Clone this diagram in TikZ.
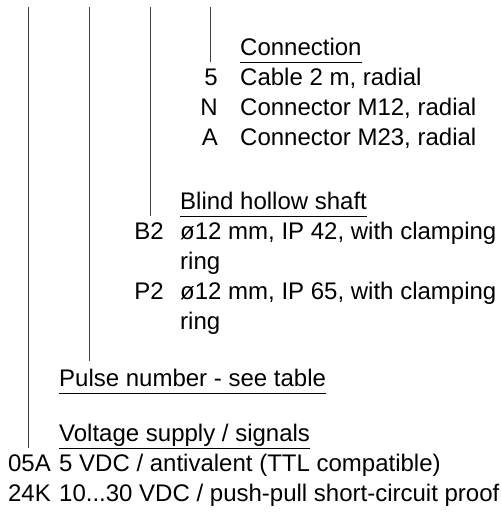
\documentclass[tikz,border=0pt]{standalone}
\usepackage{fontspec}
\setmainfont{Liberation Sans}
\usetikzlibrary{positioning}

\begin{document}
\begin{tikzpicture}[x=1pt, y=-1pt,
    txt/.style={inner sep=0pt, font=\fontsize{24}{30}\selectfont, anchor=base west},
    code/.style={txt, anchor=base east},
    lead/.style={line width=0.9pt, black!75},
    uline/.style={line width=1pt}]

    \useasboundingbox (0,0) rectangle (502,515);

    % connection
    \node[txt] (conn) at (240,55) {Connection};
    \node[code] (c5) at (218,85) {5};
    \node[txt] (c5t) at (240,85) {Cable 2 m, radial};
    \node[code] (cN) at (218,115) {N};
    \node[txt] (cNt) at (240,115) {Connector M12, radial};
    \node[code] (cA) at (218,145) {A};
    \node[txt] (cAt) at (240,145) {Connector M23, radial};

    % shaft
    \node[txt] (shaft) at (180,209) {Blind hollow shaft};
    \node[code] (sB2) at (164,239) {B2};
    \node[txt] (sB2t) at (180,239) {ø12 mm, IP 42, with clamping};
    \node[txt] (sB2r) at (180,269) {ring};
    \node[code] (sP2) at (164,299) {P2};
    \node[txt] (sP2t) at (180,299) {ø12 mm, IP 65, with clamping};
    \node[txt] (sP2r) at (180,329) {ring};

    % pulses
    \node[txt] (pulse) at (59,386) {Pulse number - see table};

    % supply
    \node[txt] (volt) at (59,441) {Voltage supply / signals};
    \node[code] (v05A) at (51,471) {05A};
    \node[txt] (v05At) at (59,471) {5 VDC / antivalent (TTL compatible)};
    \node[code] (v24K) at (51,501) {24K};
    \node[txt] (v24Kt) at (59,501) {10...30 VDC / push-pull short-circuit proof};

    % underlines
    \foreach \h in {conn, shaft, pulse, volt}
        \draw[uline] ([yshift=-7pt]\h.base west) -- ([yshift=-7pt]\h.base east);

    % leads
    \coordinate (top1) at (28,7);
    \coordinate (top2) at (89,7);
    \coordinate (top3) at (150,7);
    \coordinate (top4) at (210,7);
    \coordinate (bot2) at (89,361);

    \draw[lead] (top1) -- ([yshift=-7pt]top1 |- volt.base);
    \draw[lead] (top2) -- (bot2);
    \draw[lead] (top3) -- ([yshift=-7pt]top3 |- shaft.base);
    \draw[lead] (top4) -- ([yshift=-7pt]top4 |- conn.base);
\end{tikzpicture}
\end{document}
